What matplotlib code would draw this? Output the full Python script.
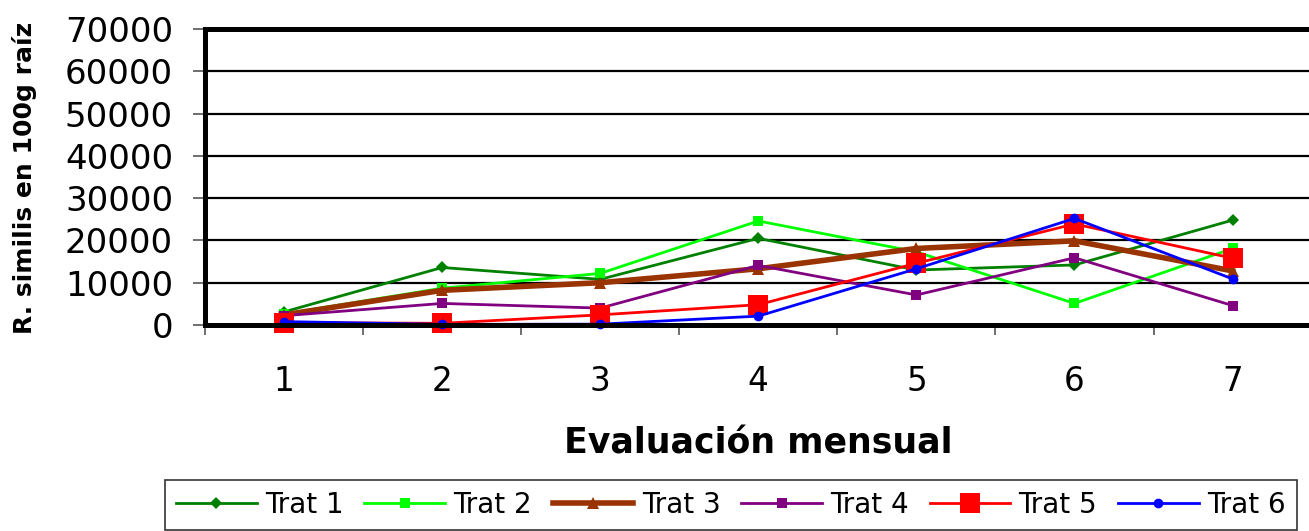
import matplotlib
matplotlib.use("Agg")
import matplotlib.pyplot as plt
from matplotlib.ticker import FixedLocator

months = [1, 2, 3, 4, 5, 6, 7]
trat1 = [3100, 13600, 10800, 20500, 13000, 14200, 24800]
trat2 = [2600, 8700, 12200, 24600, 17300, 5100, 18100]
trat3 = [2400, 8200, 10000, 13300, 18100, 19900, 12800]
trat4 = [2200, 5100, 4000, 14100, 7100, 15900, 4600]
trat5 = [550, 400, 2400, 4800, 14600, 23900, 15800]
trat6 = [800, 150, 200, 2100, 13300, 25200, 10900]
labels = ["Trat 1", "Trat 2", "Trat 3", "Trat 4", "Trat 5", "Trat 6"]
yticks = [0, 10000, 20000, 30000, 40000, 50000, 60000, 70000]

series = [trat1, trat2, trat3, trat4, trat5, trat6]
colors = ["#008000", "#00FF00", "#993300", "#800080", "#FF0000", "#0000FF"]
markers = ["D", "s", "^", "s", "s", "o"]
msizes = [6, 6.5, 8, 7, 14.5, 7]
lws = [2, 2, 4, 2, 2, 2]

plt.rcParams['font.family'] = ['DejaVu Sans']

fig = plt.figure(figsize=(13.09, 5.31), dpi=100)
ax = fig.add_axes([205/1309, 1-325/531, 1.002-205/1309, (325-29)/531])

for s, c, m, ms, lw, lab in zip(series, colors, markers, msizes, lws, labels):
    ax.plot(months, s, color=c, marker=m, markersize=ms, linewidth=lw,
            markeredgewidth=0, label=lab, clip_on=False)

ax.set_xlim(0.5, 7.5)
ax.set_ylim(0, 70000)
ax.set_yticks(yticks)
ax.set_yticklabels([str(v) for v in yticks], fontsize=24.5)
ax.set_xticks(months)
ax.set_xticklabels([str(v) for v in months], fontsize=23.5)
ax.xaxis.set_minor_locator(FixedLocator([i + 0.5 for i in range(0, 8)]))
ax.tick_params(axis='x', which='major', length=0, pad=29)
ax.tick_params(axis='x', which='minor', length=7, width=1.2, color='#555555', direction='out')
ax.tick_params(axis='y', length=9, width=1.2, color='#555555', direction='out', pad=14)

for y in yticks[1:-1]:
    ax.axhline(y, color='black', linewidth=1.6, zorder=0.5)

for sp in ['left', 'bottom', 'top']:
    ax.spines[sp].set_linewidth(3.6)
    ax.spines[sp].set_color('black')
ax.spines['right'].set_visible(False)

ax.set_xlabel("Evaluación mensual", fontsize=25, fontweight='bold', labelpad=20)
fig.text(25/1309, 1-178/531, "R. similis en 100g raíz", rotation=90, fontsize=18,
         fontweight='bold', ha='center', va='center')

leg = fig.legend(loc='upper left', bbox_to_anchor=(165/1309, 1-480/531), ncol=6,
                 fontsize=20, frameon=True, fancybox=False, edgecolor='black',
                 handlelength=2.9, handletextpad=0.3, columnspacing=0.75,
                 borderpad=0.4, borderaxespad=0)
leg.get_frame().set_linewidth(1.2)

fig.savefig("out.png", dpi=100)
